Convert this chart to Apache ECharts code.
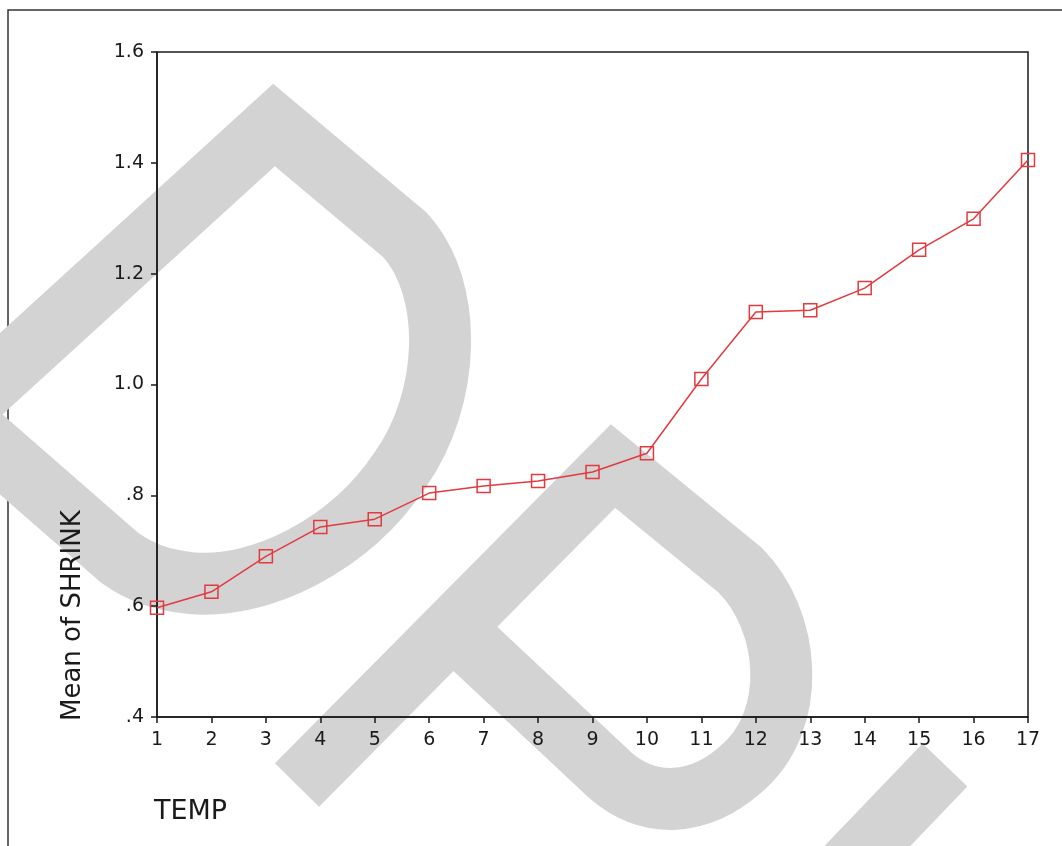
<!DOCTYPE html>
<html>
<head>
<meta charset="utf-8">
<script src="https://cdn.jsdelivr.net/npm/echarts@6/dist/echarts.min.js"></script>
<style>
  html, body { margin: 0; padding: 0; background: #fff; }
  #chart { width: 1062px; height: 846px; }
</style>
</head>
<body>
<div id="chart"></div>
<script>
// TEMP categories and mean SHRINK values
const temps = ["1","2","3","4","5","6","7","8","9","10","11","12","13","14","15","16","17"];
const meanShrink = [0.597, 0.626, 0.690, 0.743, 0.757, 0.804, 0.817, 0.826, 0.842, 0.876,
                    1.010, 1.131, 1.134, 1.174, 1.243, 1.299, 1.405];
const yTicks = [0.4, 0.6, 0.8, 1.0, 1.2, 1.4, 1.6];

const red = "#e23a3f";
const ink = "#1a1a1a";
const wm = "#d3d3d3";

// grey watermark strokes lying behind the chart
const watermarkPaths = [
  "M274 125 L405 235 C455 290 450 400 400 470 C350 545 260 590 190 583 C160 580 140 572 120 558 L-44 415 Z",
  "M297 785 L613 466 L740 570 C790 620 800 720 740 770 C700 805 650 810 610 775 L453 628",
  "M945 765 L830 885",
];

let myChart = echarts.init(document.getElementById("chart"));
myChart.setOption({
  backgroundColor: "#fff",
  animation: false,
  grid: {
    left: 157,
    right: 34,
    top: 52,
    bottom: 129,
    show: true,
    borderColor: ink,
    borderWidth: 1.5,
    backgroundColor: "transparent",
  },
  graphic: [
    // outer frame of the page
    {
      type: "rect",
      z: -20,
      shape: { x: 8, y: 10, width: 1200, height: 1000 },
      style: { fill: "none", stroke: "#333", lineWidth: 1.5 },
    },
    // axis titles
    {
      type: "text",
      x: 60,
      y: 721,
      rotation: Math.PI / 2,
      style: {
        text: "Mean of SHRINK",
        fill: ink,
        font: '26px "DejaVu Sans"',
        verticalAlign: "top",
      },
      z: 10,
    },
    {
      type: "text",
      x: 154,
      y: 798,
      style: { text: "TEMP", fill: ink, font: '27px "DejaVu Sans"', verticalAlign: "top" },
      z: 10,
    },
  ],
  xAxis: {
    type: "category",
    data: temps,
    boundaryGap: false,
    axisLine: { lineStyle: { color: ink, width: 1.5 } },
    axisTick: { show: true, alignWithLabel: true, length: 6, lineStyle: { color: ink, width: 1.5 } },
    axisLabel: {
      color: ink,
      fontFamily: "DejaVu Sans",
      fontSize: 19,
      margin: 14,
    },
    splitLine: { show: false },
  },
  yAxis: {
    type: "value",
    min: yTicks[0],
    max: yTicks[yTicks.length - 1],
    interval: 0.2,
    axisLine: { show: true, lineStyle: { color: ink, width: 1.5 } },
    axisTick: { show: true, length: 6, lineStyle: { color: ink, width: 1.5 } },
    axisLabel: {
      color: ink,
      fontFamily: "DejaVu Sans",
      fontSize: 19,
      margin: 13,
      formatter: (v) => {
        let s = (Math.round(v * 10) / 10).toFixed(1);
        return v < 1 ? s.replace(/^0/, "") : s;
      },
    },
    splitLine: { show: false },
  },
  series: [
    {
      type: "custom",
      coordinateSystem: "none",
      silent: true,
      z: -10,
      data: [0],
      renderItem: () => ({
        type: "group",
        children: watermarkPaths.map((d) => ({
          type: "path",
          shape: { pathData: d },
          style: { fill: "none", stroke: wm, lineWidth: 62, lineJoin: "miter", miterLimit: 10, lineCap: "butt" },
        })),
      }),
    },
    {
      type: "line",
      data: meanShrink,
      symbol: "rect",
      symbolSize: 13,
      z: 5,
      lineStyle: { color: red, width: 1.5 },
      itemStyle: { color: "rgba(255,255,255,0)", borderColor: red, borderWidth: 1.5 },
    },
  ],
});
</script>
</body>
</html>
